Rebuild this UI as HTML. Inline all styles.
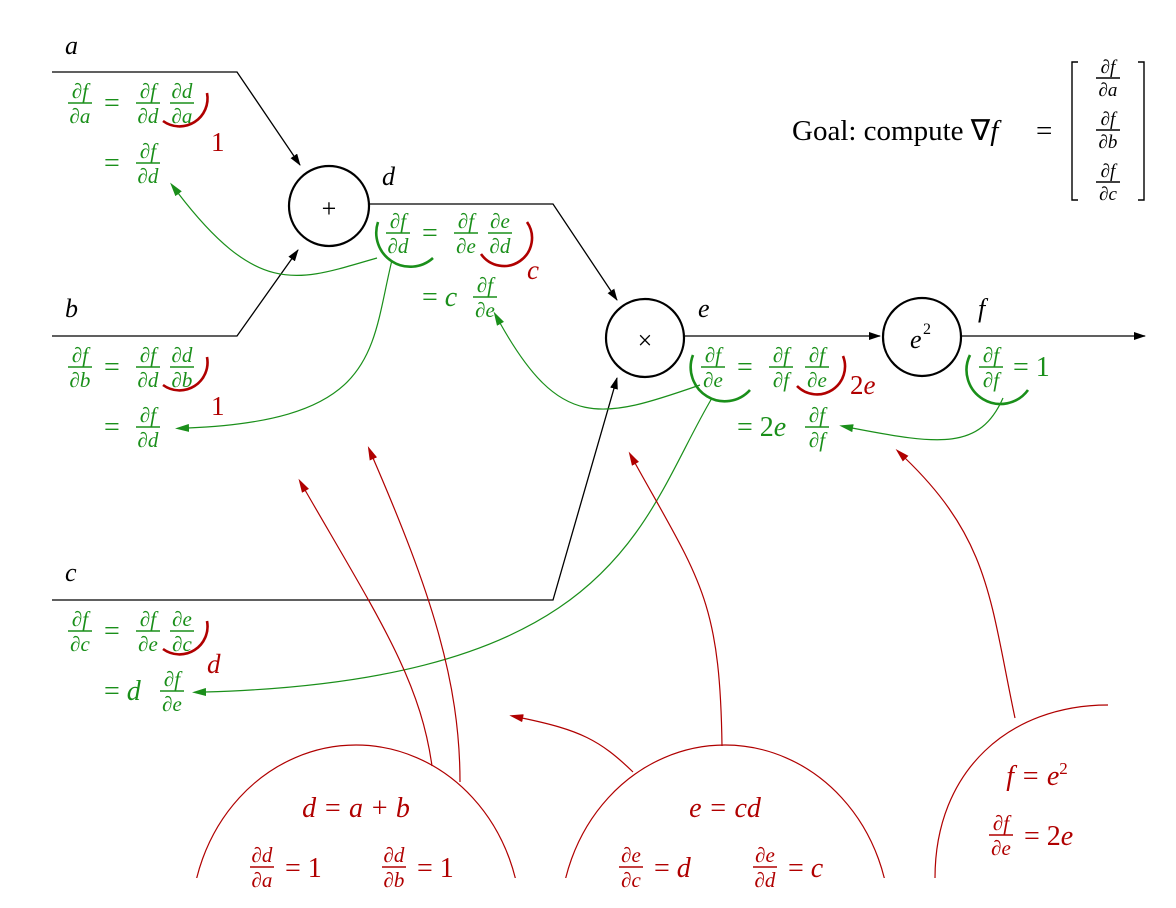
<!DOCTYPE html>
<html><head><meta charset="utf-8"><style>
html,body{margin:0;padding:0;background:#fff;width:1176px;height:908px;overflow:hidden;}
svg{display:block;}
text{font-family:"Liberation Serif",serif;}
.g{fill:#1a8f1a;font-style:italic;}
.gn{fill:#1a8f1a;}
.r{fill:#b00000;font-style:italic;}
.rn{fill:#b00000;}
</style></head><body>
<svg width="1176" height="908" viewBox="0 0 1176 908" xmlns="http://www.w3.org/2000/svg">
<defs>
<marker id="ak" markerWidth="12" markerHeight="8" refX="11" refY="4" orient="auto" markerUnits="userSpaceOnUse"><path d="M0,0 L12,4 L0,8 Z" fill="#000"/></marker>
<marker id="ag" markerWidth="14" markerHeight="8" refX="1" refY="4" orient="auto-start-reverse" markerUnits="userSpaceOnUse"><path d="M0,0 L14,4 L0,8 Z" fill="#1a8f1a"/></marker>
<marker id="ar" markerWidth="14" markerHeight="8" refX="1" refY="4" orient="auto-start-reverse" markerUnits="userSpaceOnUse"><path d="M0,0 L14,4 L0,8 Z" fill="#b00000"/></marker>
<clipPath id="cl"><rect x="0" y="0" width="1176" height="878"/></clipPath>
</defs>

<g stroke="#000" stroke-width="1.3" fill="none">
<path d="M52,72 H237 L300,165" marker-end="url(#ak)"/>
<path d="M52,336 H237 L298,250" marker-end="url(#ak)"/>
<path d="M369,204 H553 L617,300" marker-end="url(#ak)"/>
<path d="M52,600 H553 L617,378" marker-end="url(#ak)"/>
<path d="M685,336 H880" marker-end="url(#ak)"/>
<path d="M962,336 H1145" marker-end="url(#ak)"/>
</g>
<g stroke="#000" stroke-width="2.2" fill="#fff">
<circle cx="329" cy="206" r="40"/>
<circle cx="645" cy="338" r="39"/>
<circle cx="922" cy="337" r="39"/>
</g>
<text x="329" y="217" font-size="26" text-anchor="middle">+</text>
<text x="645" y="349" font-size="26" text-anchor="middle">×</text>
<text x="910" y="348" font-size="26" font-style="italic">e</text><text x="923" y="334" font-size="16">2</text>

<g font-size="26" font-style="italic">
<text x="65" y="54">a</text>
<text x="65" y="317">b</text>
<text x="65" y="581">c</text>
<text x="382" y="185">d</text>
<text x="698" y="317">e</text>
<text x="978" y="317">f</text>
</g>

<text x="792" y="140" font-size="29">Goal: compute ∇<tspan font-style="italic">f</tspan></text>
<text x="1036" y="140" font-size="29">=</text>
<g stroke="#000" stroke-width="1.4" fill="none">
<path d="M1078,62 H1072 V200 H1078"/>
<path d="M1138,62 H1144 V200 H1138"/>
<line x1="1096" y1="78" x2="1120" y2="78"/>
<line x1="1096" y1="130" x2="1120" y2="130"/>
<line x1="1096" y1="182" x2="1120" y2="182"/>
</g>
<g font-size="19" font-style="italic" text-anchor="middle">
<text x="1108" y="73">∂f</text><text x="1108" y="96">∂a</text>
<text x="1108" y="125">∂f</text><text x="1108" y="148">∂b</text>
<text x="1108" y="177">∂f</text><text x="1108" y="200">∂c</text>
</g>

<g class="g" font-size="21" text-anchor="middle">
<text x="80" y="98">∂f</text><text x="80" y="123">∂a</text>
<text x="148" y="98">∂f</text><text x="148" y="123">∂d</text>
<text x="182" y="98">∂d</text><text x="182" y="123">∂a</text>
<text x="148" y="158">∂f</text><text x="148" y="183">∂d</text>
<text x="80" y="362">∂f</text><text x="80" y="387">∂b</text>
<text x="148" y="362">∂f</text><text x="148" y="387">∂d</text>
<text x="182" y="362">∂d</text><text x="182" y="387">∂b</text>
<text x="148" y="422">∂f</text><text x="148" y="447">∂d</text>
<text x="80" y="626">∂f</text><text x="80" y="651">∂c</text>
<text x="148" y="626">∂f</text><text x="148" y="651">∂e</text>
<text x="182" y="626">∂e</text><text x="182" y="651">∂c</text>
<text x="172" y="686">∂f</text><text x="172" y="711">∂e</text>
<text x="398" y="228">∂f</text><text x="398" y="253">∂d</text>
<text x="466" y="228">∂f</text><text x="466" y="253">∂e</text>
<text x="500" y="228">∂e</text><text x="500" y="253">∂d</text>
<text x="485" y="292">∂f</text><text x="485" y="317">∂e</text>
<text x="713" y="362">∂f</text><text x="713" y="387">∂e</text>
<text x="781" y="362">∂f</text><text x="781" y="387">∂f</text>
<text x="817" y="362">∂f</text><text x="817" y="387">∂e</text>
<text x="817" y="422">∂f</text><text x="817" y="447">∂f</text>
<text x="991" y="362">∂f</text><text x="991" y="387">∂f</text>
</g>
<g stroke="#1a8f1a" stroke-width="1.6">
<line x1="68" y1="103" x2="92" y2="103"/><line x1="136" y1="103" x2="160" y2="103"/><line x1="170" y1="103" x2="194" y2="103"/><line x1="136" y1="163" x2="160" y2="163"/>
<line x1="68" y1="367" x2="92" y2="367"/><line x1="136" y1="367" x2="160" y2="367"/><line x1="170" y1="367" x2="194" y2="367"/><line x1="136" y1="427" x2="160" y2="427"/>
<line x1="68" y1="631" x2="92" y2="631"/><line x1="136" y1="631" x2="160" y2="631"/><line x1="170" y1="631" x2="194" y2="631"/><line x1="160" y1="691" x2="184" y2="691"/>
<line x1="386" y1="233" x2="410" y2="233"/><line x1="454" y1="233" x2="478" y2="233"/><line x1="488" y1="233" x2="512" y2="233"/><line x1="473" y1="297" x2="497" y2="297"/>
<line x1="701" y1="367" x2="725" y2="367"/><line x1="769" y1="367" x2="793" y2="367"/><line x1="805" y1="367" x2="829" y2="367"/><line x1="805" y1="427" x2="829" y2="427"/>
<line x1="979" y1="367" x2="1003" y2="367"/>
</g>
<g class="gn" font-size="28">
<text x="104" y="112">=</text><text x="104" y="172">=</text>
<text x="104" y="376">=</text><text x="104" y="436">=</text>
<text x="104" y="640">=</text><text x="104" y="700">= <tspan font-style="italic">d</tspan></text>
<text x="422" y="242">=</text><text x="422" y="306">= <tspan font-style="italic">c</tspan></text>
<text x="737" y="376">=</text><text x="737" y="436">= 2<tspan font-style="italic">e</tspan></text>
<text x="1013" y="376">= 1</text>
</g>
<g fill="none" stroke-width="2.6">
<path d="M163,121 A28,28 0 0 0 207,93" stroke="#b00000"/>
<path d="M163,385 A28,28 0 0 0 207,357" stroke="#b00000"/>
<path d="M163,649 A28,28 0 0 0 207,621" stroke="#b00000"/>
<path d="M481,254 A28,28 0 0 0 527,222" stroke="#b00000"/>
<path d="M797,386 A28,28 0 0 0 843,356" stroke="#b00000"/>
<path d="M378,222 A34,34 0 0 0 433,258" stroke="#1a8f1a"/>
<path d="M693,355 A34,34 0 0 0 750,390" stroke="#1a8f1a"/>
<path d="M970,355 A34,34 0 0 0 1028,390" stroke="#1a8f1a"/>
</g>
<g class="rn" font-size="27">
<text x="211" y="151">1</text>
<text x="211" y="415">1</text>
<text x="207" y="673" font-style="italic">d</text>
<text x="527" y="279" font-style="italic">c</text>
<text x="850" y="394">2<tspan font-style="italic">e</tspan></text>
</g>

<g fill="none" stroke="#1a8f1a" stroke-width="1.2">
<path d="M377,258 C300,280 260,300 178,193" marker-end="url(#ag)"/>
<path d="M392,260 C370,350 380,420 188,428" marker-end="url(#ag)"/>
<path d="M700,385 C600,420 560,430 500,323" marker-end="url(#ag)"/>
<path d="M712,398 C640,520 620,680 205,692" marker-end="url(#ag)"/>
<path d="M1003,398 C980,450 940,445 852,428" marker-end="url(#ag)"/>
</g>

<g fill="none" stroke="#b00000" stroke-width="1.2">
<path d="M432,766 C420,680 380,620 305,490" marker-end="url(#ar)"/>
<path d="M460,782 C460,680 430,590 373,458" marker-end="url(#ar)"/>
<path d="M633,772 C600,740 580,730 522,718" marker-end="url(#ar)"/>
<path d="M722,746 C720,600 700,580 635,463" marker-end="url(#ar)"/>
<path d="M1015,718 C990,600 990,540 905,458" marker-end="url(#ar)"/>
</g>
<g fill="none" stroke="#b00000" stroke-width="1.2" clip-path="url(#cl)">
<ellipse cx="356" cy="925" rx="165" ry="180"/>
<ellipse cx="725" cy="925" rx="165" ry="180"/>
<path d="M935,878 C935,770 1010,705 1108,705"/>
</g>
<g class="r" font-size="28" text-anchor="middle">
<text x="356" y="817">d = a + b</text>
<text x="725" y="817">e = cd</text>
<text x="1037" y="785">f = e<tspan font-size="17" font-style="normal" dy="-11">2</tspan></text>
</g>
<g class="r" font-size="21" text-anchor="middle">
<text x="262" y="862">∂d</text><text x="262" y="887">∂a</text>
<text x="394" y="862">∂d</text><text x="394" y="887">∂b</text>
<text x="631" y="862">∂e</text><text x="631" y="887">∂c</text>
<text x="765" y="862">∂e</text><text x="765" y="887">∂d</text>
<text x="1001" y="830">∂f</text><text x="1001" y="855">∂e</text>
</g>
<g stroke="#b00000" stroke-width="1.5">
<line x1="250" y1="867" x2="274" y2="867"/><line x1="382" y1="867" x2="406" y2="867"/>
<line x1="619" y1="867" x2="643" y2="867"/><line x1="753" y1="867" x2="777" y2="867"/>
<line x1="989" y1="835" x2="1013" y2="835"/>
</g>
<g class="rn" font-size="28">
<text x="285" y="877">= 1</text>
<text x="417" y="877">= 1</text>
<text x="654" y="877">= <tspan font-style="italic">d</tspan></text>
<text x="788" y="877">= <tspan font-style="italic">c</tspan></text>
<text x="1024" y="845">= 2<tspan font-style="italic">e</tspan></text>
</g>
</svg>
</body></html>
